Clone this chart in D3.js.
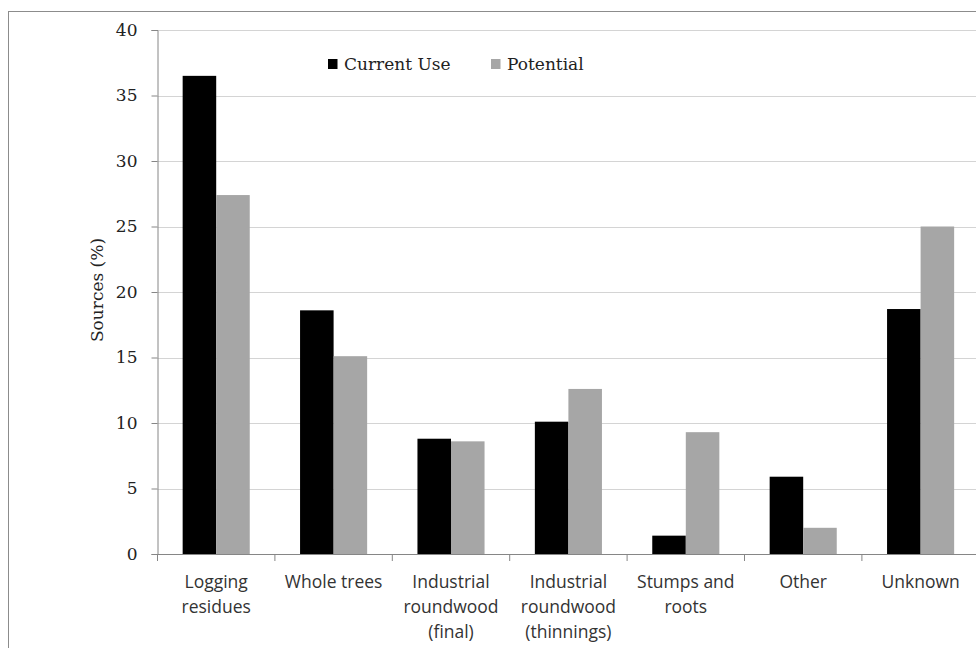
<!DOCTYPE html>
<html><head><meta charset="utf-8">
<script src="https://cdn.jsdelivr.net/npm/d3@7"></script>
<style>
html,body{margin:0;padding:0;background:#fff;}
svg{display:block;}
</style></head>
<body>
<svg id="chart" width="976" height="648"></svg>
<script>
const categories = ["Logging residues","Whole trees","Industrial roundwood (final)","Industrial roundwood (thinnings)","Stumps and roots","Other","Unknown"];
const categoryLines = [["Logging","residues"],["Whole trees"],["Industrial","roundwood","(final)"],["Industrial","roundwood","(thinnings)"],["Stumps and","roots"],["Other"],["Unknown"]];
const seriesNames = ["Current Use","Potential"];
const currentUse = [36.5, 18.6, 8.8, 10.1, 1.4, 5.9, 18.7];
const potential = [27.4, 15.1, 8.6, 12.6, 9.3, 2.0, 25.0];
const yTicks = [0,5,10,15,20,25,30,35,40];
const colors = ["#000000","#a6a6a6"];

const svg = d3.select("#chart");
// outer chart border
svg.append("rect").attr("x",8.5).attr("y",11.5).attr("width",1000).attr("height",700)
  .attr("fill","none").attr("stroke","#8c8c8c").attr("stroke-width",1);

const x0 = 157.5, plotW = 7*117.4, yBottom = 554, yTop = 30;
const x = d3.scaleBand().domain(categories).range([x0, x0+plotW]).paddingInner(0).paddingOuter(0);
const y = d3.scaleLinear().domain([0,40]).range([yBottom, yTop]);
const barW = x.bandwidth()/3.5;
const xs = d3.scaleBand().domain(seriesNames).range([barW*0.75, barW*2.75]).padding(0);

// gridlines
svg.append("g").selectAll("line").data(yTicks.filter(d=>d>0)).join("line")
  .attr("x1",x0).attr("x2",x0+plotW)
  .attr("y1",d=>Math.round(y(d))+0.5).attr("y2",d=>Math.round(y(d))+0.5)
  .attr("stroke","#d4d4d4").attr("stroke-width",1.2);

// bars
const data = categories.map((c,i)=>({c, vals:[currentUse[i], potential[i]]}));
const g = svg.append("g");
g.selectAll("g").data(data).join("g")
  .attr("transform",d=>`translate(${x(d.c)},0)`)
  .selectAll("rect").data(d=>d.vals.map((v,j)=>({s:seriesNames[j], v, j})))
  .join("rect")
  .attr("x",d=>xs(d.s)).attr("width",xs.bandwidth())
  .attr("y",d=>y(d.v)).attr("height",d=>y(0)-y(d.v))
  .attr("fill",d=>colors[d.j]);

// y axis
const yAxis = d3.axisLeft(y).tickValues(yTicks).tickSize(6).tickPadding(14);
const ya = svg.append("g").attr("transform",`translate(${x0},0)`).call(yAxis);
ya.select(".domain").attr("stroke","#868686");
ya.selectAll(".tick line").attr("stroke","#868686");
ya.selectAll(".tick text").attr("font-family","'DejaVu Serif', serif").attr("font-size",17).attr("fill","#222");

// x axis
const xa = svg.append("g").attr("transform",`translate(0,${yBottom})`);
xa.append("line").attr("x1",x0).attr("x2",x0+plotW).attr("y1",0.5).attr("y2",0.5).attr("stroke","#868686");
const bounds = categories.map(c=>x(c)).concat([x0+plotW]);
xa.selectAll("line.tk").data(bounds).join("line").attr("class","tk")
  .attr("x1",d=>d).attr("x2",d=>d).attr("y1",0).attr("y2",7).attr("stroke","#868686");
const lbl = xa.selectAll("text").data(categories).join("text")
  .attr("x",d=>x(d)+x.bandwidth()/2).attr("y",34)
  .attr("text-anchor","middle").attr("font-family","'Open Sans', sans-serif")
  .attr("font-size",17.5).attr("fill","#333");
lbl.each(function(d,i){
  const t = d3.select(this);
  categoryLines[i].forEach((line,k)=>{
    t.append("tspan").attr("x",x(d)+x.bandwidth()/2).attr("dy",k===0?0:25).text(line);
  });
});

// y title
svg.append("text").attr("transform","translate(103,290) rotate(-90)")
  .attr("text-anchor","middle").attr("font-family","'DejaVu Serif', serif")
  .attr("font-size",17).attr("fill","#222").text("Sources (%)");

// legend
const legPos = [328, 491];
const leg = svg.append("g");
seriesNames.forEach((s,i)=>{
  leg.append("rect").attr("x",legPos[i]).attr("y",59).attr("width",9.5).attr("height",10).attr("fill",colors[i]);
  leg.append("text").attr("x",legPos[i]+16).attr("y",70).attr("font-family","'DejaVu Serif', serif")
    .attr("font-size",17).attr("fill","#222").text(s);
});
</script>
</body></html>
